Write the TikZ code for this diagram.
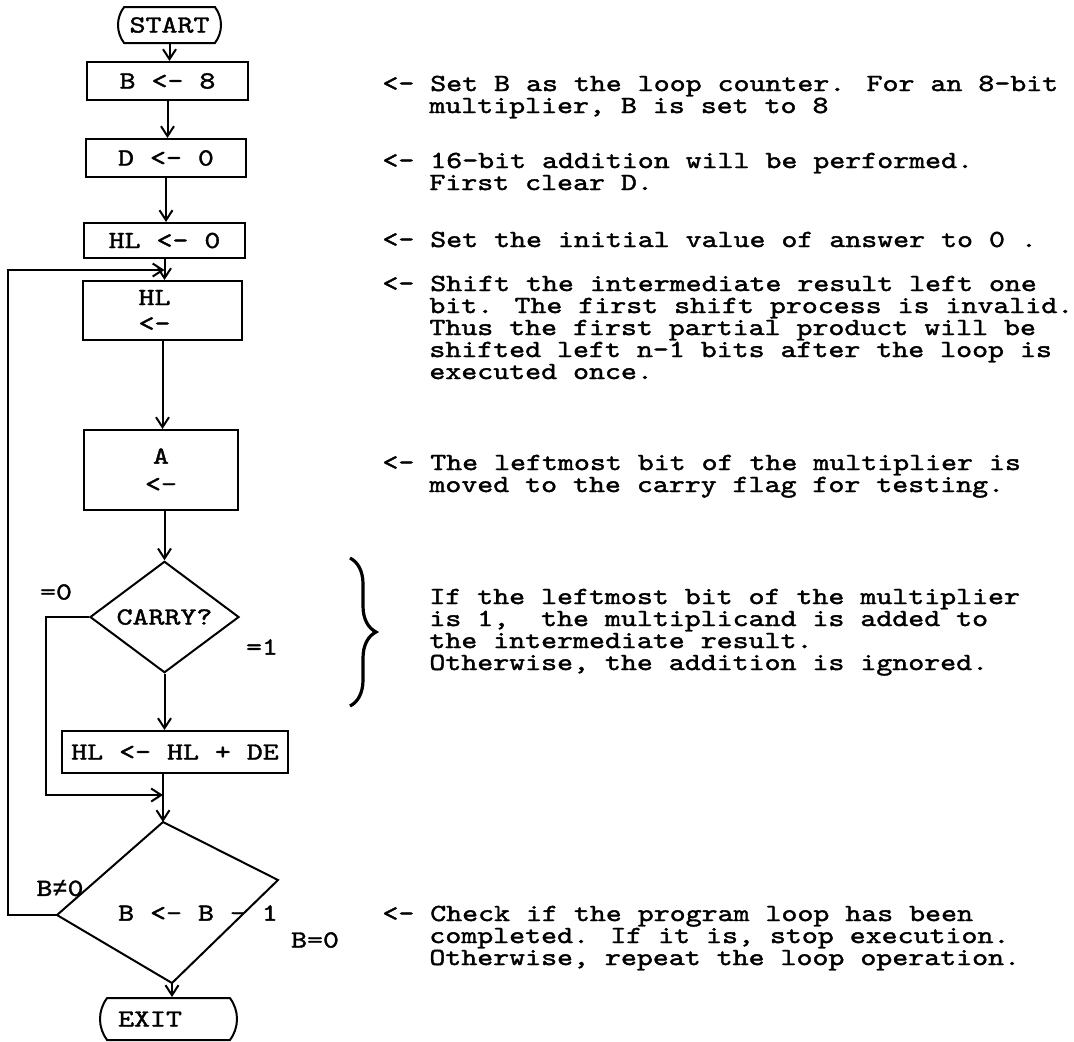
\documentclass[tikz,border=0pt]{standalone}
\usepackage{fontspec}
\newfontfamily\tw[FakeStretch=1.236,WordSpace={1,0,0},FakeBold=1.6]{lmmono10-regular.otf}
\newfontfamily\lmono[FakeBold=1]{Liberation Mono}
\usetikzlibrary{shapes.geometric,shapes.misc,arrows.meta,decorations.pathreplacing}
\begin{document}
\begin{tikzpicture}[x=0.5pt,y=-0.5pt,
  every node/.style={font=\tw\fontsize{12.3}{13}\selectfont, inner sep=0pt},
  box/.style={draw, rectangle, line width=1pt, align=center},
  term/.style={draw, rounded rectangle, rounded rectangle arc length=75, line width=1pt},
  dec/.style={draw, diamond, line width=1pt},
  ln/.style={line width=1pt},
  arr/.style={line width=1pt, -{Straight Barb[length=5pt,width=6.5pt,line width=1pt]}},
  note/.style={anchor=base west},
  bracestyle/.style={line width=1.6pt, decorate, decoration={brace, amplitude=13pt}}
]
\useasboundingbox (0,0) rectangle (1074,1041);

% flowchart nodes
\node[term, minimum width=51.5pt, minimum height=18pt] (start) at (169.5,25) {START};
\node[box, minimum width=80.5pt, minimum height=19pt] (b8) at (167.5,81) {B <- 8};
\node[box, minimum width=80pt, minimum height=19pt] (d0) at (166,158) {D <- 0};
\node[box, minimum width=80.5pt, minimum height=17.5pt] (hl0) at (164.5,240.5) {HL <- 0};
\node[box, minimum width=79.5pt, minimum height=29.5pt] (hlsh) at (162.5,310.5) {HL\hspace*{8pt}\\<-\hspace*{8pt}};
\node[box, minimum width=77pt, minimum height=40pt] (abox) at (161,470) {A\\[1pt]<-};
\node[dec, minimum width=74.5pt, minimum height=50pt] (carry) at (164.5,617) {CARRY?};
\node[box, minimum width=113pt, minimum height=21pt] (hlde) at (175,752) {HL <- HL + DE};

\coordinate (d2t) at (163,822);
\coordinate (d2r) at (278,880);
\coordinate (d2b) at (172,983);
\coordinate (d2l) at (57,915);
\draw[ln] (d2t) -- (d2r) -- (d2b) -- (d2l) -- cycle;
\node (dec2) at (198,913) {B <- B - 1};

\node[term, minimum width=68.5pt, minimum height=21pt] (exit) at (168.5,1019) {EXIT\hspace*{18.5pt}};

\coordinate (loopin) at (164.5,270);
\coordinate (merge) at (163,795);

% connectors
\draw[arr] (start.south) -- (start.south |- b8.north);
\draw[arr] (b8.south) -- (b8.south |- d0.north);
\draw[arr] (d0.south) -- (d0.south |- hl0.north);
\draw[arr] (hl0.south) -- (hl0.south |- hlsh.north);
\draw[arr] (hlsh.south) -- (hlsh.south |- abox.north);
\draw[arr] (abox.south -| carry.north) -- (carry.north);
\draw[arr] (carry.south) -- (carry.south |- hlde.north);
\draw[arr] (hlde.south -| d2t) -- (d2t);
\draw[arr] (carry.west) -- ++(-43,0) |- (merge);
\draw[arr] (d2l) -- ++(-49,0) |- (loopin);
\draw[arr] (d2b) -- (d2b |- exit.north);

% branch labels
\node (l0) at (56,592) {=0};
\node (l1) at (262,647) {=1};
\node (lne) at (60,888) {B{\lmono\fontsize{12.6}{13}\selectfont ≠}0};
\node (leq) at (315,940) {B=0};

% annotations
\node[note] (n1a) at (382,91) {<- Set B as the loop counter. For an 8-bit};
\node[note] (n1b) at (429,113) {multiplier, B is set to 8};
\node[note] (n2a) at (382,168) {<- 16-bit addition will be performed.};
\node[note] (n2b) at (429,190) {First clear D.};
\node[note] (n3a) at (382,247) {<- Set the initial value of answer to 0 .};
\node[note] (n4a) at (382,291) {<- Shift the intermediate result left one};
\node[note] (n4b) at (429,313) {bit. The first shift process is invalid.};
\node[note] (n4c) at (429,335) {Thus the first partial product will be};
\node[note] (n4d) at (429,357) {shifted left n-1 bits after the loop is};
\node[note] (n4e) at (429,379) {executed once.};
\node[note] (n5a) at (382,470) {<- The leftmost bit of the multiplier is};
\node[note] (n5b) at (429,492) {moved to the carry flag for testing.};
\draw[bracestyle] (350,558) -- (350,706);
\node[note] (n6a) at (429,604) {If the leftmost bit of the multiplier};
\node[note] (n6b) at (429,626) {is 1,~ the multiplicand is added to};
\node[note] (n6c) at (429,648) {the intermediate result.};
\node[note] (n6d) at (429,670) {Otherwise, the addition is ignored.};
\node[note] (n7a) at (382,921) {<- Check if the program loop has been};
\node[note] (n7b) at (429,943) {completed. If it is, stop execution.};
\node[note] (n7c) at (429,965) {Otherwise, repeat the loop operation.};
\end{tikzpicture}
\end{document}
